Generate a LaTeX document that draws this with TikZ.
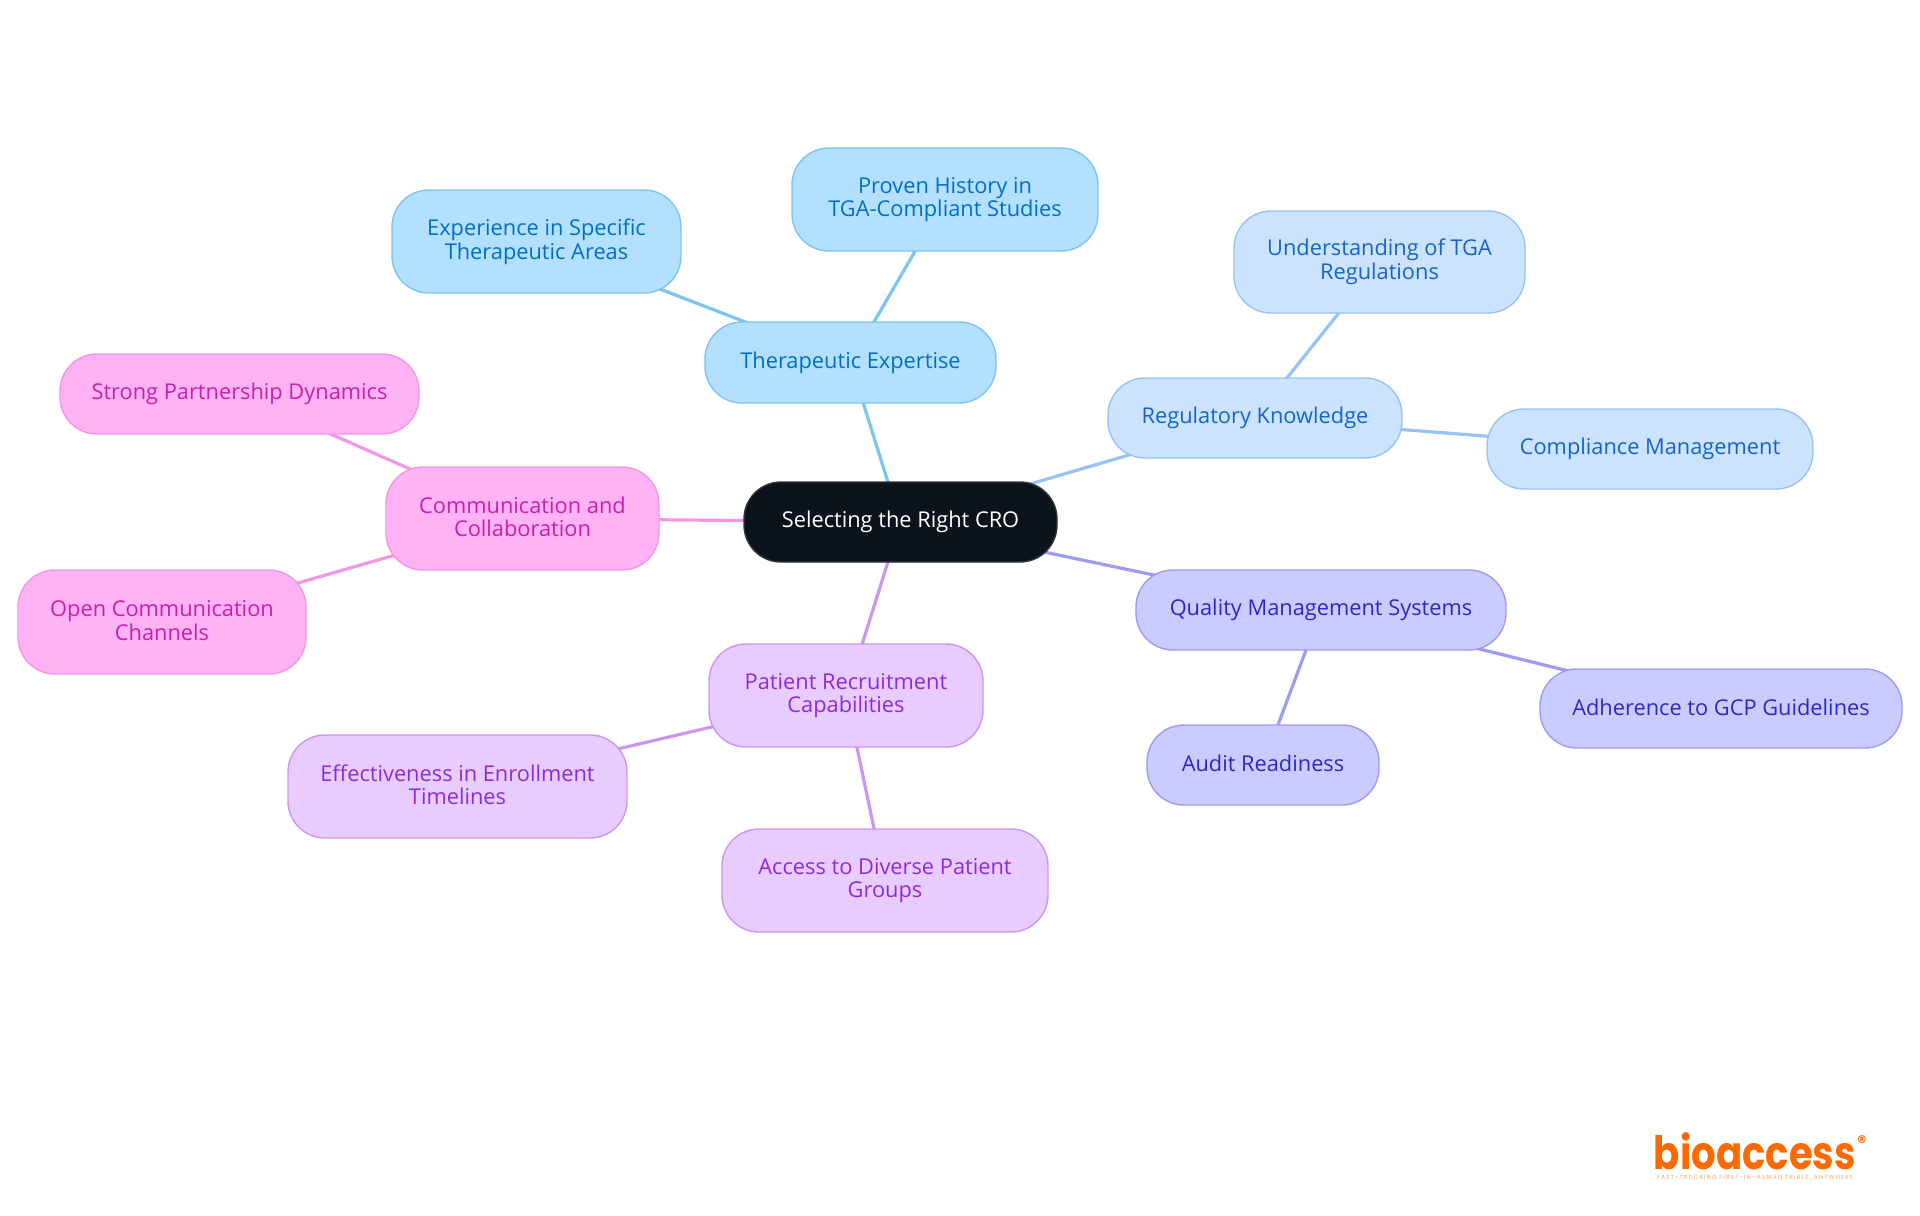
\documentclass[tikz,border=0pt]{standalone}
\usepackage{fontspec}
\setmainfont{Open Sans}
\newfontfamily\logofont{Poppins}
\usetikzlibrary{backgrounds}
\definecolor{rootfill}{HTML}{0C131B}
\definecolor{rootline}{HTML}{30363C}
\definecolor{tfill}{HTML}{B3E0FF}\definecolor{tline}{HTML}{7CC4F2}\definecolor{ttext}{HTML}{0070C4}
\definecolor{rfill}{HTML}{CCE3FD}\definecolor{rline}{HTML}{96C3F2}\definecolor{rtext}{HTML}{1565C8}
\definecolor{qfill}{HTML}{CACCFF}\definecolor{qline}{HTML}{9C9CF2}\definecolor{qtext}{HTML}{3026C8}
\definecolor{pfill}{HTML}{E8CCFF}\definecolor{pline}{HTML}{CB96F2}\definecolor{ptext}{HTML}{8E2BD8}
\definecolor{cfill}{HTML}{FFB3F5}\definecolor{cline}{HTML}{F296E6}\definecolor{ctext}{HTML}{C81FB0}
\definecolor{logoc}{HTML}{FF6A00}
\newcommand{\mystrut}{\rule[-1.74pt]{0pt}{10.06pt}}
\tikzset{
  x=0.5pt,y=-0.5pt,
  box/.style={rectangle,rounded corners=18.5pt,inner sep=0pt,align=center,line width=0.7pt,
     font=\fontsize{10.9}{11.8}\selectfont,
     execute at begin node=\mystrut,execute at end node=\mystrut},
  rootbox/.style={box,draw=rootline,fill=rootfill,text=white},
  tbox/.style={box,draw=tline,fill=tfill,text=ttext},
  rbox/.style={box,draw=rline,fill=rfill,text=rtext},
  qbox/.style={box,draw=qline,fill=qfill,text=qtext},
  pbox/.style={box,draw=pline,fill=pfill,text=ptext},
  cbox/.style={box,draw=cline,fill=cfill,text=ctext},
  link/.style={line width=1.6pt},
}
\newcommand{\bx}[8]{\node[#1,minimum width=#5*0.5pt-#3*0.5pt,minimum height=#6*0.5pt-#4*0.5pt] (#2) at ({(#3+#5)/2},{(#4+#6)/2}) {#7};}
\begin{document}
\begin{tikzpicture}
\useasboundingbox (0,0) rectangle (1920,1215);
\bx{rootbox}{root}{744}{482}{1057}{562}{Selecting the Right CRO}{}
\bx{tbox}{t}{705}{322}{996}{403}{Therapeutic Expertise}{}
\bx{tbox}{t1}{792}{148}{1098}{251}{Proven History in\\TGA-Compliant Studies}{}
\bx{tbox}{t2}{392}{190}{681}{293}{Experience in Specific\\Therapeutic Areas}{}
\bx{rbox}{r}{1108}{378}{1402}{458}{Regulatory Knowledge}{}
\bx{rbox}{r1}{1234}{211}{1525}{313}{Understanding of TGA\\Regulations}{}
\bx{rbox}{r2}{1487}{409}{1813}{489}{Compliance Management}{}
\bx{qbox}{q}{1136}{570}{1506}{650}{Quality Management Systems}{}
\bx{qbox}{q1}{1540}{669}{1902}{748}{Adherence to GCP Guidelines}{}
\bx{qbox}{q2}{1147}{725}{1379}{805}{Audit Readiness}{}
\bx{pbox}{p}{709}{644}{983}{747}{Patient Recruitment\\Capabilities}{}
\bx{pbox}{p1}{288}{735}{627}{838}{Effectiveness in Enrollment\\Timelines}{}
\bx{pbox}{p2}{722}{829}{1048}{932}{Access to Diverse Patient\\Groups}{}
\bx{cbox}{c}{386}{467}{659}{570}{Communication and\\Collaboration}{}
\bx{cbox}{c1}{60}{354}{419}{434}{Strong Partnership Dynamics}{}
\bx{cbox}{c2}{18}{570}{306}{674}{Open Communication\\Channels}{}
\node[inner sep=0pt,anchor=base,text=logoc,xscale=0.84,transform shape,font=\logofont\bfseries\fontsize{23}{23}\selectfont] (logo) at (1755,1169) {bioaccess};
\node[inner sep=0pt,text=logoc,font=\logofont\bfseries\fontsize{9}{9}\selectfont] (reg) at (1862,1142) {®};
\node[inner sep=0pt,text=logoc!60,font=\logofont\fontsize{3}{3.5}\selectfont\addfontfeature{LetterSpace=18}] (tag) at (1755,1178) {FAST-TRACKING FIRST-IN-HUMAN TRIALS, ANYWHERE};
\begin{scope}[on background layer]
\draw[link,draw=tline] (root.center)--(t.center) (t.center)--(t1.center) (t.center)--(t2.center);
\draw[link,draw=rline] (root.center)--(r.center) (r.center)--(r1.center) (r.center)--(r2.center);
\draw[link,draw=qline] (root.center)--(q.center) (q.center)--(q1.center) (q.center)--(q2.center);
\draw[link,draw=pline] (root.center)--(p.center) (p.center)--(p1.center) (p.center)--(p2.center);
\draw[link,draw=cline] (root.center)--(c.center) (c.center)--(c1.center) (c.center)--(c2.center);
\end{scope}
\end{tikzpicture}
\end{document}
